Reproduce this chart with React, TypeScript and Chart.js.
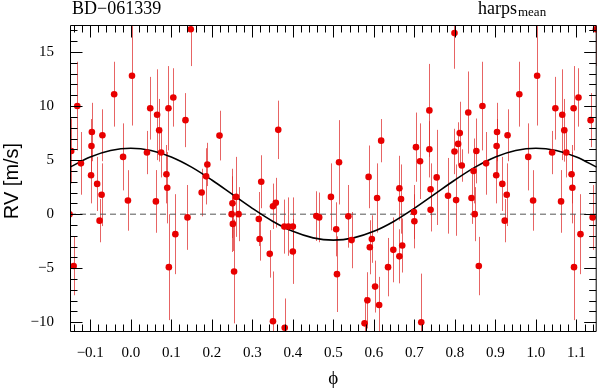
import React, { useEffect, useRef } from "react";
import { Chart, registerables } from "chart.js";

Chart.register(...registerables);

// ---- text ----
const TITLE_LEFT = "BD−061339";
const TITLE_RIGHT = "harps";
const TITLE_RIGHT_SUB = "mean";
const X_LABEL = "ϕ";
const Y_LABEL = "RV [m/s]";

// ---- axes ----
const X_MIN = -0.15;
const X_MAX = 1.15;
const Y_MIN = -10.9;
const Y_MAX = 17.5;
const xTickValues = [-0.1, 0, 0.1, 0.2, 0.3, 0.4, 0.5, 0.6, 0.7, 0.8, 0.9, 1.0, 1.1];
const xTickLabels = ["−0.1", "0.0", "0.1", "0.2", "0.3", "0.4", "0.5", "0.6", "0.7", "0.8", "0.9", "1.0", "1.1"];
const yTickValues = [-10, -5, 0, 5, 10, 15];
const yTickLabels = ["−10", "−5", "0", "5", "10", "15"];
const X_MINOR_STEP = 0.02;
const Y_MINOR_STEP = 1;

// ---- measurements (orbital phase in [0,1), RV, 1-sigma error) ----
const phases = [
  0.868, 0.959, 0.853, 0.877, 0.904, 0.903, 0.902, 0.917, 0.928, 0.923, 0.930, 0.849, 0.981, 0.993, 0.859,
  0.003, 0.048, 0.065, 0.093, 0.105, 0.135, 0.148, 0.040, 0.070, 0.075, 0.088, 0.090, 0.062, 0.219, 0.140,
  0.175, 0.186, 0.189, 0.249, 0.251, 0.260, 0.266, 0.252, 0.094, 0.110, 0.255,
  0.364, 0.322, 0.316, 0.351, 0.358, 0.379, 0.389, 0.400, 0.458, 0.465, 0.494, 0.514, 0.507, 0.537,
  0.587, 0.608, 0.618, 0.663, 0.667, 0.704, 0.714, 0.699, 0.700, 0.318, 0.343, 0.351, 0.380, 0.400,
  0.509, 0.545, 0.577, 0.584, 0.590, 0.595, 0.603, 0.613, 0.635, 0.648, 0.663, 0.670, 0.717,
  0.737, 0.799, 0.833, 0.737, 0.740, 0.740, 0.755, 0.783, 0.799, 0.803, 0.808, 0.812, 0.817, 0.841, 0.846,
];
const rvValues = [
  10.0, 11.1, 5.85, 4.7, 7.6, 6.3, 3.6, 2.8, 1.8, -0.6, 7.3, 0.0, 5.3, 1.27, -4.8,
  12.8, 9.8, 9.2, 9.8, 10.8, 8.7, 17.1, 5.7, 7.76, 5.7, 3.7, 2.45, 1.18, 7.27, -0.3,
  2.0, 3.5, 4.6, 0.0, 1.0, 1.6, 0.0, -0.9, -4.9, -1.85, -5.3,
  7.8, 3.0, -0.45, 0.73, 1.06, -1.15, -1.15, -1.15, -0.18, -0.3, 1.6, 4.8, -1.4, -0.2,
  3.45, 1.5, 6.8, 2.4, 1.4, 6.2, 4.9, 0.2, -0.66, -2.3, -3.67, -9.9, -10.5, -3.45,
  -5.55, -2.4, -10.1, -7.97, -3.06, -2.3, -6.7, -8.4, -4.9, -3.3, -3.9, -2.9, -10.0,
  9.6, 16.75, 9.4, 6.0, 2.3, 0.4, 3.4, 1.7, 5.8, 1.3, 6.5, 7.5, 4.5, 1.5, 4.0,
];
const rvErrors = [
  4.1, 3.0, 3.0, 2.9, 2.7, 2.5, 2.6, 2.5, 2.9, 2.0, 2.4, 2.5, 3.1, 2.8, 2.7,
  4.6, 2.9, 4.2, 3.9, 2.7, 2.5, 3.4, 2.0, 2.9, 2.3, 2.7, 3.3, 2.9, 2.3, 3.0,
  2.2, 2.6, 2.0, 3.5, 3.2, 3.7, 2.5, 2.5, 4.9, 3.7, 4.8,
  2.7, 2.45, 2.5, 2.1, 2.3, 2.5, 2.7, 2.7, 2.3, 2.3, 3.1, 3.9, 2.5, 2.9,
  2.9, 3.2, 2.0, 3.0, 3.2, 3.2, 3.5, 2.5, 2.5, 2.0, 2.2, 4.6, 2.7, 3.0,
  3.5, 2.6, 2.4, 2.6, 2.5, 2.2, 2.4, 2.6, 2.7, 3.0, 2.5, 2.5, 4.5,
  4.3, 3.3, 3.8, 2.6, 2.4, 2.0, 4.4, 3.5, 2.1, 3.3, 2.0, 2.9, 1.5, 2.4, 3.0,
];

// ---- fitted model curve ----
const modelPhases = [
  -0.15, -0.1, -0.05, 0.0, 0.05, 0.1, 0.15, 0.2, 0.25, 0.3, 0.35, 0.4, 0.45, 0.5,
  0.55, 0.6, 0.65, 0.7, 0.75, 0.8, 0.85, 0.9, 0.95, 1.0, 1.05, 1.1, 1.15,
];
const modelValues = [
  4.35, 5.29, 5.89, 6.1, 5.89, 5.29, 4.35, 3.16, 1.85, 0.54, -0.65, -1.59, -2.19, -2.4,
  -2.19, -1.59, -0.65, 0.54, 1.85, 3.16, 4.35, 5.29, 5.89, 6.1, 5.89, 5.29, 4.35,
];

// ---- styles ----
const SERIF = "'Liberation Serif', 'Times New Roman', 'DejaVu Serif', serif";
const SANS = "'Liberation Sans', Arial, 'DejaVu Sans', sans-serif";
const POINT_COLOR = "rgb(232,0,0)";
const ERR_COLOR = "rgba(222,40,40,0.72)";

type P = { x: number; y: number; e: number };

function buildPoints(): P[] {
  const out: P[] = [];
  phases.forEach((p, i) => {
    [-1, 0, 1].forEach((s) => {
      const x = p + s;
      if (x >= X_MIN - 0.004 && x <= X_MAX + 0.004) out.push({ x, y: rvValues[i], e: rvErrors[i] });
    });
  });
  return out;
}

export default function App() {
  const ref = useRef<HTMLCanvasElement | null>(null);

  useEffect(() => {
    const canvas = ref.current;
    if (!canvas) return;
    const points = buildPoints();
    const model = modelPhases.map((x, i) => ({ x, y: modelValues[i] }));

    const errorBars = {
      id: "errorBars",
      beforeDatasetsDraw(chart: any) {
        const { ctx, chartArea: a, scales } = chart;
        const xs = scales.x, ys = scales.y;
        ctx.save();
        ctx.beginPath();
        ctx.rect(a.left, a.top, a.right - a.left, a.bottom - a.top);
        ctx.clip();
        ctx.strokeStyle = ERR_COLOR;
        ctx.lineWidth = 1;
        for (const p of points) {
          const px = Math.round(xs.getPixelForValue(p.x)) + 0.5;
          ctx.beginPath();
          ctx.moveTo(px, ys.getPixelForValue(p.y - p.e));
          ctx.lineTo(px, ys.getPixelForValue(p.y + p.e));
          ctx.stroke();
        }
        ctx.restore();
      },
    };

    const frame = {
      id: "frame",
      afterDatasetsDraw(chart: any) {
        const { ctx, chartArea: a, scales } = chart;
        const xs = scales.x, ys = scales.y;
        const L = a.left + 0.5, R = a.right - 0.5, T = a.top + 0.5, B = a.bottom - 0.5;
        ctx.save();
        ctx.strokeStyle = "#000";
        ctx.lineWidth = 1;
        ctx.beginPath();
        ctx.rect(L, T, R - L, B - T);
        ctx.stroke();
        const MAJ = 12, MIN = 7;
        ctx.beginPath();
        const xMaj = new Set(xTickValues.map((v) => Math.round(v * 100)));
        for (let k = Math.ceil(X_MIN / X_MINOR_STEP); k * X_MINOR_STEP <= X_MAX + 1e-9; k++) {
          const v = k * X_MINOR_STEP;
          const len = xMaj.has(Math.round(v * 100)) ? MAJ : MIN;
          const px = Math.round(xs.getPixelForValue(v)) + 0.5;
          ctx.moveTo(px, B); ctx.lineTo(px, B - len);
          ctx.moveTo(px, T); ctx.lineTo(px, T + len);
        }
        const yMaj = new Set(yTickValues);
        for (let k = Math.ceil(Y_MIN / Y_MINOR_STEP); k * Y_MINOR_STEP <= Y_MAX; k++) {
          const v = k * Y_MINOR_STEP;
          const len = yMaj.has(v) ? MAJ : MIN;
          const py = Math.round(ys.getPixelForValue(v)) + 0.5;
          ctx.moveTo(L, py); ctx.lineTo(L + len, py);
          ctx.moveTo(R, py); ctx.lineTo(R - len, py);
        }
        ctx.stroke();
        ctx.restore();
      },
      afterDraw(chart: any) {
        const { ctx, chartArea: a } = chart;
        ctx.save();
        ctx.fillStyle = "#000";
        ctx.textBaseline = "alphabetic";
        ctx.textAlign = "left";
        ctx.font = `18px ${SERIF}`;
        ctx.fillText(TITLE_LEFT, a.left + 2, 14);
        const hx = 478;
        ctx.fillText(TITLE_RIGHT, hx, 14);
        const w = ctx.measureText(TITLE_RIGHT).width;
        ctx.font = `13px ${SERIF}`;
        ctx.fillText(TITLE_RIGHT_SUB, hx + w + 1, 16);
        ctx.font = `19px ${SERIF}`;
        ctx.textAlign = "center";
        ctx.textBaseline = "middle";
        ctx.fillText(X_LABEL, (a.left + a.right) / 2, 379);
        ctx.translate(18, 181);
        ctx.rotate(-Math.PI / 2);
        ctx.font = `20px ${SANS}`;
        ctx.textBaseline = "alphabetic";
        ctx.fillText(Y_LABEL, 0, 0);
        ctx.restore();
      },
    };

    const chart = new Chart(canvas, {
      type: "scatter",
      data: {
        datasets: [
          {
            type: "scatter",
            data: points,
            pointRadius: 3.3,
            pointHoverRadius: 3.3,
            pointBackgroundColor: POINT_COLOR,
            pointBorderWidth: 0,
            borderWidth: 0,
            clip: 0,
          } as any,
          {
            type: "line",
            data: model,
            showLine: true,
            borderColor: "#000",
            borderWidth: 1.6,
            pointRadius: 0,
            cubicInterpolationMode: "monotone",
            fill: false,
            clip: 0,
          } as any,
          {
            type: "line",
            data: [{ x: X_MIN, y: 0 }, { x: X_MAX, y: 0 }],
            showLine: true,
            borderColor: "#555",
            borderWidth: 1,
            borderDash: [6, 4],
            pointRadius: 0,
            fill: false,
            clip: 0,
          } as any,
        ],
      },
      options: {
        responsive: false,
        devicePixelRatio: 1,
        animation: false,
        events: [],
        layout: { padding: { top: 19, right: 1, left: 0, bottom: 0 } },
        plugins: { legend: { display: false }, tooltip: { enabled: false }, title: { display: false } },
        scales: {
          x: {
            type: "linear",
            min: X_MIN,
            max: X_MAX,
            grid: { display: false, drawTicks: false },
            border: { display: false },
            afterBuildTicks: (s: any) => { s.ticks = xTickValues.map((v) => ({ value: v })); },
            afterFit: (s: any) => { s.height = 56; },
            ticks: {
              autoSkip: false,
              maxRotation: 0,
              padding: 12,
              color: "#000",
              font: { family: SERIF, size: 15 },
              callback: (_v: any, i: number) => xTickLabels[i],
            },
          },
          y: {
            type: "linear",
            min: Y_MIN,
            max: Y_MAX,
            grid: { display: false, drawTicks: false },
            border: { display: false },
            afterBuildTicks: (s: any) => { s.ticks = yTickValues.map((v) => ({ value: v })); },
            afterFit: (s: any) => { s.width = 70; },
            ticks: {
              autoSkip: false,
              padding: 16,
              color: "#000",
              font: { family: SERIF, size: 15 },
              callback: (_v: any, i: number) => yTickLabels[i],
            },
          },
        },
      } as any,
      plugins: [errorBars, frame],
    });
    return () => chart.destroy();
  }, []);

  return (
    <div style={{ position: "fixed", left: 0, top: 0, width: 600, height: 388, background: "#fff" }}>
      <canvas ref={ref} width={600} height={388} style={{ display: "block", width: 600, height: 388 }} />
    </div>
  );
}
